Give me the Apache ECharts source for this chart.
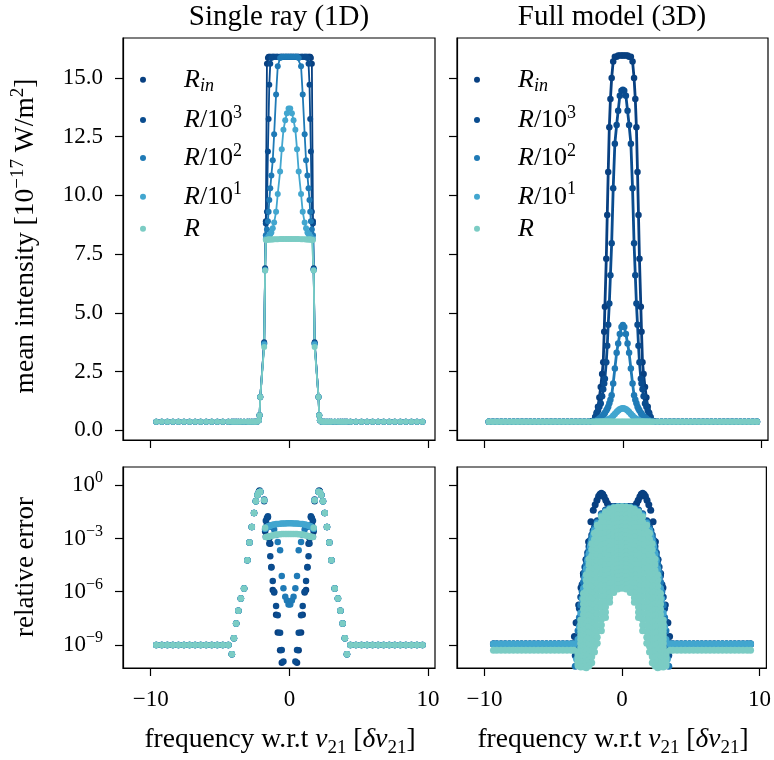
<!DOCTYPE html>
<html><head><meta charset="utf-8">
<script src="https://cdn.jsdelivr.net/npm/echarts@6.0.0/dist/echarts.min.js"></script>
<style>html,body{margin:0;padding:0;background:#fff}#c{width:774px;height:760px}</style>
</head><body><div id="c"></div>
<script>
// ---------------- DATA ----------------
const seriesNames = ['R_in','R/10^3','R/10^2','R/10^1','R'];
const xTicks = [-10, 0, 10];
const yTicksTop = [0, 2.5, 5, 7.5, 10, 12.5, 15];
const yTicksErr = [-9, -6, -3, 0];   // log10 of relative error

// 1D (single ray) frequency grid
const x1D = [-9.6,-9.2,-8.8,-8.4,-8.0,-7.6,-7.2,-6.8,-6.4,-6.0,-5.6,-5.2,-4.8,-4.4,-4.15,-4.0,-3.84,-3.68,-3.5,-3.27,-3.03,-2.88,-2.71,-2.55,-2.42,-2.3,-2.2,-2.15,-2.1,-1.82,-1.75,-1.7,-1.62,-1.55,-1.5,-1.45,-1.38,-1.3,-1.2,-1.1,-0.96,-0.84,-0.67,-0.55,-0.43,-0.3,-0.18,-0.06,
0.06,0.18,0.3,0.43,0.55,0.67,0.84,0.96,1.1,1.2,1.3,1.38,1.45,1.5,1.55,1.62,1.7,1.75,1.82,2.1,2.15,2.2,2.3,2.42,2.55,2.71,2.88,3.03,3.27,3.5,3.68,3.84,4.0,4.15,4.4,4.8,5.2,5.6,6.0,6.4,6.8,7.2,7.6,8.0,8.4,8.8,9.2,9.6];

// 1D mean intensity [1e-17 W/m2]
const int1D_Rin = [0.37,0.37,0.37,0.37,0.37,0.37,0.37,0.37,0.37,0.37,0.37,0.37,0.37,0.37,0.37,0.37,0.37,0.37,0.37,0.37,0.37,0.37,0.37,0.37,0.37,
0.38,0.43,0.64,1.42,3.75,6.9,8.9,15.6,15.85,
15.9,15.9,15.9,15.9,15.9,15.9,15.9,15.9,15.9,15.9,15.9,15.9,15.9,15.9,
15.9,15.9,15.9,15.9,15.9,15.9,15.9,15.9,15.9,15.9,15.9,15.9,15.9,15.9,
15.85,15.6,8.9,6.9,3.75,1.42,0.64,0.43,0.38,
0.37,0.37,0.37,0.37,0.37,0.37,0.37,0.37,0.37,0.37,0.37,0.37,0.37,0.37,0.37,0.37,0.37,0.37,0.37,0.37,0.37,0.37,0.37,0.37,0.37];
const int1D_R1e3 = [0.37,0.37,0.37,0.37,0.37,0.37,0.37,0.37,0.37,0.37,0.37,0.37,0.37,0.37,0.37,0.37,0.37,0.37,0.37,0.37,0.37,0.37,0.37,0.37,0.37,
0.38,0.43,0.64,1.42,3.7,6.85,8.81,9.31,11.87,13.25,14.71,15.6,15.85,
15.9,15.9,15.9,15.9,15.9,15.9,15.9,15.9,15.9,15.9,
15.9,15.9,15.9,15.9,15.9,15.9,15.9,15.9,15.9,15.9,
15.85,15.6,14.71,13.25,11.87,9.31,8.81,6.85,3.7,1.42,0.64,0.43,0.38,
0.37,0.37,0.37,0.37,0.37,0.37,0.37,0.37,0.37,0.37,0.37,0.37,0.37,0.37,0.37,0.37,0.37,0.37,0.37,0.37,0.37,0.37,0.37,0.37,0.37];
const int1D_R1e2 = [0.37,0.37,0.37,0.37,0.37,0.37,0.37,0.37,0.37,0.37,0.37,0.37,0.37,0.37,0.37,0.37,0.37,0.37,0.37,0.37,0.37,0.37,0.37,0.37,0.37,
0.38,0.43,0.64,1.42,3.7,6.85,8.3,8.55,8.9,9.3,9.8,10.3,10.85,11.5,12.6,14.3,15.5,15.85,
15.9,15.9,15.9,15.9,15.9,15.9,15.9,15.9,15.9,15.9,
15.85,15.5,14.3,12.6,11.5,10.85,10.3,9.8,9.3,8.9,8.55,8.3,6.85,3.7,1.42,0.64,0.43,0.38,
0.37,0.37,0.37,0.37,0.37,0.37,0.37,0.37,0.37,0.37,0.37,0.37,0.37,0.37,0.37,0.37,0.37,0.37,0.37,0.37,0.37,0.37,0.37,0.37,0.37];
const int1D_R1e1 = [0.37,0.37,0.37,0.37,0.37,0.37,0.37,0.37,0.37,0.37,0.37,0.37,0.37,0.37,0.37,0.37,0.37,0.37,0.37,0.37,0.37,0.37,0.37,0.37,0.37,
0.38,0.43,0.64,1.42,3.65,6.8,8.15,8.18,8.2,8.25,8.3,8.35,8.42,8.6,8.85,9.3,10.06,11.02,11.97,12.79,13.2,13.5,13.7,
13.7,13.5,13.2,12.79,11.97,11.02,10.06,9.3,8.85,8.6,8.42,8.35,8.3,8.25,8.2,8.18,8.15,6.8,3.65,1.42,0.64,0.43,0.38,
0.37,0.37,0.37,0.37,0.37,0.37,0.37,0.37,0.37,0.37,0.37,0.37,0.37,0.37,0.37,0.37,0.37,0.37,0.37,0.37,0.37,0.37,0.37,0.37,0.37];
const int1D_R = [0.37,0.37,0.37,0.37,0.37,0.37,0.37,0.37,0.37,0.37,0.37,0.37,0.37,0.37,0.37,0.37,0.37,0.37,0.37,0.37,0.37,0.37,0.37,0.37,0.37,
0.38,0.43,0.64,1.42,3.55,6.8,8.1,8.11,8.12,8.12,8.12,8.12,8.12,8.12,8.13,8.13,8.13,8.14,8.14,8.14,8.15,8.15,8.15,
8.15,8.15,8.15,8.14,8.14,8.14,8.13,8.13,8.13,8.12,8.12,8.12,8.12,8.12,8.12,8.11,8.1,6.8,3.55,1.42,0.64,0.43,0.38,
0.37,0.37,0.37,0.37,0.37,0.37,0.37,0.37,0.37,0.37,0.37,0.37,0.37,0.37,0.37,0.37,0.37,0.37,0.37,0.37,0.37,0.37,0.37,0.37,0.37];

// 1D relative error, log10 values
const err1D_Rin = [-9,-9,-9,-9,-9,-9,-9,-9,-9,-9,-9,-9,-9,-9,
-9.53,-8.63,-7.79,-7.07,-6.38,-5.82,-4.22,-3.23,-2.35,-1.56,-0.9,-0.55,-0.35,-0.3,-0.36,
-0.9,-2.6,-2.9,-2.2,-1.8,-2.3,-3.0,-3.3,-4.6,-5.9,-6.05,-7.3,-8.3,-9.3,-10.0,-11,-11,-11,-11,
-11,-11,-11,-11,-10.0,-9.3,-8.3,-7.3,-6.05,-5.9,-4.6,-3.3,-3.0,-2.3,-1.8,-2.2,-2.9,-2.6,-0.9,
-0.36,-0.3,-0.35,-0.55,-0.9,-1.56,-2.35,-3.23,-4.22,-5.82,-6.38,-7.07,-7.79,-8.63,-9.53,
-9,-9,-9,-9,-9,-9,-9,-9,-9,-9,-9,-9,-9,-9];
const err1D_R1e3 = [-9,-9,-9,-9,-9,-9,-9,-9,-9,-9,-9,-9,-9,-9,
-9.53,-8.63,-7.79,-7.07,-6.38,-5.82,-4.22,-3.23,-2.35,-1.56,-0.9,-0.55,-0.41,-0.33,-0.36,
-0.8,-2.5,-2.0,-1.85,-1.74,-2.9,-3.28,-4.0,-4.63,-5.4,-6.0,-6.8,-7.32,-8.31,-9.29,-9.94,-11,-11,-11,
-11,-11,-11,-9.94,-9.29,-8.31,-7.32,-6.8,-6.0,-5.4,-4.63,-4.0,-3.28,-2.9,-1.74,-1.85,-2.0,-2.5,-0.8,
-0.36,-0.33,-0.41,-0.55,-0.9,-1.56,-2.35,-3.23,-4.22,-5.82,-6.38,-7.07,-7.79,-8.63,-9.53,
-9,-9,-9,-9,-9,-9,-9,-9,-9,-9,-9,-9,-9,-9];
const err1D_R1e2 = [-9,-9,-9,-9,-9,-9,-9,-9,-9,-9,-9,-9,-9,-9,
-9.53,-8.63,-7.79,-7.07,-6.38,-5.82,-4.22,-3.23,-2.35,-1.56,-0.9,-0.55,-0.41,-0.38,-0.36,
-0.84,-2.45,-2.4,-2.38,-2.35,-2.33,-2.32,-2.3,-2.3,-2.35,-2.5,-2.8,-3.2,-3.66,-5.12,-5.81,-6.28,-6.5,-6.72,
-6.72,-6.5,-6.28,-5.81,-5.12,-3.66,-3.2,-2.8,-2.5,-2.35,-2.3,-2.3,-2.32,-2.33,-2.35,-2.38,-2.4,-2.45,-0.84,
-0.36,-0.38,-0.41,-0.55,-0.9,-1.56,-2.35,-3.23,-4.22,-5.82,-6.38,-7.07,-7.79,-8.63,-9.53,
-9,-9,-9,-9,-9,-9,-9,-9,-9,-9,-9,-9,-9,-9];
const err1D_R1e1 = [-9,-9,-9,-9,-9,-9,-9,-9,-9,-9,-9,-9,-9,-9,
-9.53,-8.63,-7.79,-7.07,-6.38,-5.82,-4.22,-3.23,-2.35,-1.56,-0.9,-0.55,-0.41,-0.38,-0.36,
-0.84,-2.45,-2.4,-2.36,-2.33,-2.31,-2.29,-2.27,-2.25,-2.23,-2.21,-2.19,-2.18,-2.17,-2.16,-2.15,-2.15,-2.14,-2.14,
-2.14,-2.14,-2.15,-2.15,-2.16,-2.17,-2.18,-2.19,-2.21,-2.23,-2.25,-2.27,-2.29,-2.31,-2.33,-2.36,-2.4,-2.45,-0.84,
-0.36,-0.38,-0.41,-0.55,-0.9,-1.56,-2.35,-3.23,-4.22,-5.82,-6.38,-7.07,-7.79,-8.63,-9.53,
-9,-9,-9,-9,-9,-9,-9,-9,-9,-9,-9,-9,-9,-9];
const err1D_R = [-9,-9,-9,-9,-9,-9,-9,-9,-9,-9,-9,-9,-9,-9,
-9.53,-8.63,-7.79,-7.07,-6.38,-5.82,-4.22,-3.23,-2.35,-1.56,-0.9,-0.55,-0.41,-0.38,-0.36,
-0.84,-2.4,-2.92,-2.92,-2.9,-2.9,-2.88,-2.87,-2.85,-2.83,-2.8,-2.78,-2.77,-2.76,-2.75,-2.75,-2.74,-2.74,-2.74,
-2.74,-2.74,-2.74,-2.75,-2.75,-2.76,-2.77,-2.78,-2.8,-2.83,-2.85,-2.87,-2.88,-2.9,-2.9,-2.92,-2.92,-2.4,-0.84,
-0.36,-0.38,-0.41,-0.55,-0.9,-1.56,-2.35,-3.23,-4.22,-5.82,-6.38,-7.07,-7.79,-8.63,-9.53,
-9,-9,-9,-9,-9,-9,-9,-9,-9,-9,-9,-9,-9,-9];

// 3D (full model) frequency grid for intensity
const x3D = [-9.7,-9.4,-9.1,-8.8,-8.5,-8.2,-7.9,-7.6,-7.3,-7.0,-6.7,-6.4,-6.1,-5.8,-5.5,-5.2,-4.9,-4.6,-4.3,-4.0,-3.7,-3.4,-3.1,-2.8,-2.5,-2.2,-2.0,-1.9,-1.8,-1.7,-1.6,-1.5,-1.42,-1.35,-1.3,-1.2,-1.13,-1.06,-0.98,-0.9,-0.81,-0.7,-0.58,-0.45,-0.34,-0.22,-0.1,
0,
0.1,0.22,0.34,0.45,0.58,0.7,0.81,0.9,0.98,1.06,1.13,1.2,1.3,1.35,1.42,1.5,1.6,1.7,1.8,1.9,2.0,2.2,2.5,2.8,3.1,3.4,3.7,4.0,4.3,4.6,4.9,5.2,5.5,5.8,6.1,6.4,6.7,7.0,7.3,7.6,7.9,8.2,8.5,8.8,9.1,9.4,9.7];

const int3D_Rin = [0.37,0.37,0.37,0.37,0.37,0.37,0.37,0.37,0.37,0.37,0.37,0.37,0.37,0.37,0.37,0.37,0.37,0.37,0.37,0.37,0.37,0.37,0.37,0.37,0.37,
0.4,0.57,0.75,1.0,1.4,1.85,2.4,2.9,4.2,5.26,7.3,9.17,11.0,12.9,14.1,15.0,15.7,15.9,15.9,15.95,15.95,15.95,
15.95,
15.95,15.95,15.95,15.9,15.9,15.7,15.0,14.1,12.9,11.0,9.17,7.3,5.26,4.2,2.9,2.4,1.85,1.4,1.0,0.75,0.57,0.4,
0.37,0.37,0.37,0.37,0.37,0.37,0.37,0.37,0.37,0.37,0.37,0.37,0.37,0.37,0.37,0.37,0.37,0.37,0.37,0.37,0.37,0.37,0.37,0.37,0.37];
const int3D_R1e3 = [0.37,0.37,0.37,0.37,0.37,0.37,0.37,0.37,0.37,0.37,0.37,0.37,0.37,0.37,0.37,0.37,0.37,0.37,0.37,0.37,0.37,0.37,0.37,0.37,0.37,
0.39,0.55,0.7,0.85,1.0,1.14,1.45,1.75,2.0,2.2,2.9,3.6,4.5,5.4,6.6,7.96,10.3,12.2,13.0,13.6,14.24,14.45,
14.5,
14.45,14.24,13.6,13.0,12.2,10.3,7.96,6.6,5.4,4.5,3.6,2.9,2.2,2.0,1.75,1.45,1.14,1.0,0.85,0.7,0.55,0.39,
0.37,0.37,0.37,0.37,0.37,0.37,0.37,0.37,0.37,0.37,0.37,0.37,0.37,0.37,0.37,0.37,0.37,0.37,0.37,0.37,0.37,0.37,0.37,0.37,0.37];
const int3D_R1e2 = [0.37,0.37,0.37,0.37,0.37,0.37,0.37,0.37,0.37,0.37,0.37,0.37,0.37,0.37,0.37,0.37,0.37,0.37,0.37,0.37,0.37,0.37,0.37,0.37,0.37,0.37,
0.4,0.42,0.45,0.5,0.55,0.6,0.64,0.7,0.75,0.85,0.92,1.0,1.15,1.3,1.49,2.0,2.63,3.3,3.7,4.1,4.4,
4.48,
4.4,4.1,3.7,3.3,2.63,2.0,1.49,1.3,1.15,1.0,0.92,0.85,0.75,0.7,0.64,0.6,0.55,0.5,0.45,0.42,0.4,
0.37,0.37,0.37,0.37,0.37,0.37,0.37,0.37,0.37,0.37,0.37,0.37,0.37,0.37,0.37,0.37,0.37,0.37,0.37,0.37,0.37,0.37,0.37,0.37,0.37,0.37];
const int3D_R1e1 = [0.37,0.37,0.37,0.37,0.37,0.37,0.37,0.37,0.37,0.37,0.37,0.37,0.37,0.37,0.37,0.37,0.37,0.37,0.37,0.37,0.37,0.37,0.37,0.37,0.37,0.37,
0.37,0.37,0.37,0.37,0.38,0.38,0.39,0.39,0.4,0.41,0.43,0.45,0.48,0.5,0.55,0.62,0.7,0.78,0.85,0.9,0.93,
0.94,
0.93,0.9,0.85,0.78,0.7,0.62,0.55,0.5,0.48,0.45,0.43,0.41,0.4,0.39,0.39,0.38,0.38,0.37,0.37,0.37,0.37,
0.37,0.37,0.37,0.37,0.37,0.37,0.37,0.37,0.37,0.37,0.37,0.37,0.37,0.37,0.37,0.37,0.37,0.37,0.37,0.37,0.37,0.37,0.37,0.37,0.37,0.37];
const int3D_R = [0.37,0.37,0.37,0.37,0.37,0.37,0.37,0.37,0.37,0.37,0.37,0.37,0.37,0.37,0.37,0.37,0.37,0.37,0.37,0.37,0.37,0.37,0.37,0.37,0.37,
0.37,0.37,0.37,0.37,0.37,0.37,0.37,0.37,0.37,0.37,0.37,0.37,0.37,0.37,0.37,0.37,0.37,0.37,0.37,0.37,0.37,0.37,
0.37,
0.37,0.37,0.37,0.37,0.37,0.37,0.37,0.37,0.37,0.37,0.37,0.37,0.37,0.37,0.37,0.37,0.37,0.37,0.37,0.37,0.37,0.37,
0.37,0.37,0.37,0.37,0.37,0.37,0.37,0.37,0.37,0.37,0.37,0.37,0.37,0.37,0.37,0.37,0.37,0.37,0.37,0.37,0.37,0.37,0.37,0.37,0.37];

// 3D relative error (log10): wings
const xWing3D = [-9.35,-9.1,-8.8,-8.5,-8.2,-7.9,-7.6,-7.3,-7.0,-6.7,-6.4,-6.1,-5.8,-5.5,-5.2,-4.9,-4.6,-4.3,-4.0,-3.7,-3.5,
3.5,3.7,4.0,4.3,4.6,4.9,5.2,5.5,5.8,6.1,6.4,6.7,7.0,7.3,7.6,7.9,8.2,8.5,8.8,9.1,9.35];
const errWing3D_upper = [-8.95,-8.95,-8.95,-8.95,-8.95,-8.95,-8.95,-8.95,-8.95,-8.95,-8.95,-8.95,-8.95,-8.95,-8.95,-8.95,-8.95,-8.95,-8.95,-8.95,-8.95,
-8.95,-8.95,-8.95,-8.95,-8.95,-8.95,-8.95,-8.95,-8.95,-8.95,-8.95,-8.95,-8.95,-8.95,-8.95,-8.95,-8.95,-8.95,-8.95,-8.95,-8.95];
const errWing3D_R = [-9.3,-9.3,-9.3,-9.3,-9.3,-9.3,-9.3,-9.3,-9.3,-9.3,-9.3,-9.3,-9.3,-9.3,-9.3,-9.3,-9.3,-9.3,-9.3,-9.3,-9.3,
-9.3,-9.3,-9.3,-9.3,-9.3,-9.3,-9.3,-9.3,-9.3,-9.3,-9.3,-9.3,-9.3,-9.3,-9.3,-9.3,-9.3,-9.3,-9.3,-9.3,-9.3];

// 3D error, R_in (outermost navy dots)
const xErr3D_Rin = [-3.46,-3.34,-3.15,-2.98,-2.81,-2.62,-2.43,-2.26,-2.09,-1.95,-1.82,-1.7,-1.6,-1.5,-1.4,-1.3,-1.18,-1.06,-0.8,-0.5,-0.2,
0.2,0.5,0.8,1.06,1.18,1.3,1.4,1.5,1.6,1.7,1.82,1.95,2.09,2.26,2.43,2.62,2.81,2.98,3.15,3.34,3.46];
const err3D_Rin = [-8.53,-7.75,-6.75,-5.78,-4.97,-4.18,-3.19,-2.06,-1.41,-1.1,-0.85,-0.62,-0.5,-0.45,-0.5,-0.65,-0.85,-1.03,-1.2,-1.2,-1.2,
-1.2,-1.2,-1.2,-1.03,-0.85,-0.65,-0.5,-0.45,-0.5,-0.62,-0.85,-1.1,-1.41,-2.06,-3.19,-4.18,-4.97,-5.78,-6.75,-7.75,-8.53];

// 3D error rims (R/10^3, R/10^2, R/10^1)
const xErr3D_rim = [-3.4,-3.3,-3.2,-3.1,-3.0,-2.9,-2.8,-2.7,-2.6,-2.5,-2.4,-2.3,-2.2,-2.1,-2.0,-1.8,-1.5,-1.2,-0.9,-0.6,-0.3,0,
0.3,0.6,0.9,1.2,1.5,1.8,2.0,2.1,2.2,2.3,2.4,2.5,2.6,2.7,2.8,2.9,3.0,3.1,3.2,3.3,3.4];
const err3D_R1e3 = [-9.6,-8.6,-7.7,-6.95,-6.3,-5.6,-5.1,-4.6,-4.2,-3.8,-3.45,-3.1,-2.8,-2.55,-2.35,-2.0,-1.6,-1.4,-1.28,-1.22,-1.2,-1.2,
-1.2,-1.22,-1.28,-1.4,-1.6,-2.0,-2.35,-2.55,-2.8,-3.1,-3.45,-3.8,-4.2,-4.6,-5.1,-5.6,-6.3,-6.95,-7.7,-8.6,-9.6];
const err3D_R1e2 = [-10.2,-9.2,-8.2,-7.45,-6.75,-6.0,-5.45,-4.9,-4.45,-4.0,-3.65,-3.28,-2.95,-2.68,-2.45,-2.08,-1.65,-1.44,-1.3,-1.23,-1.2,-1.2,
-1.2,-1.23,-1.3,-1.44,-1.65,-2.08,-2.45,-2.68,-2.95,-3.28,-3.65,-4.0,-4.45,-4.9,-5.45,-6.0,-6.75,-7.45,-8.2,-9.2,-10.2];
const err3D_R1e1 = [-10.8,-9.8,-8.7,-7.97,-7.2,-6.4,-5.8,-5.2,-4.7,-4.22,-3.85,-3.45,-3.1,-2.8,-2.55,-2.15,-1.7,-1.48,-1.33,-1.25,-1.21,-1.2,
-1.21,-1.25,-1.33,-1.48,-1.7,-2.15,-2.55,-2.8,-3.1,-3.45,-3.85,-4.22,-4.7,-5.2,-5.8,-6.4,-7.2,-7.97,-8.7,-9.8,-10.8];

// 3D error, R: dense cloud read as layered rows
const xErr3D_R = [-3.2,-3.0,-2.8,-2.6,-2.4,-2.2,-2.0,-1.8,-1.5,-1.2,-0.9,-0.6,-0.3,0,0.3,0.6,0.9,1.2,1.5,1.8,2.0,2.2,2.4,2.6,2.8,3.0,3.2];
const err3D_R_row00 = [-9.4,-7.6,-6.1,-5.05,-4.15,-3.3,-2.7,-2.25,-1.77,-1.52,-1.36,-1.27,-1.22,-1.21,-1.22,-1.27,-1.36,-1.52,-1.77,-2.25,-2.7,-3.3,-4.15,-5.05,-6.1,-7.6,-9.4];
const err3D_R_row05 = [-9.53,-7.82,-6.4,-5.36,-4.47,-3.64,-3.04,-2.59,-2.09,-1.82,-1.62,-1.51,-1.45,-1.44,-1.45,-1.51,-1.62,-1.82,-2.09,-2.59,-3.04,-3.64,-4.47,-5.36,-6.4,-7.82,-9.53];
const err3D_R_row10 = [-9.66,-8.04,-6.69,-5.67,-4.79,-3.97,-3.37,-2.92,-2.41,-2.11,-1.88,-1.75,-1.68,-1.67,-1.68,-1.75,-1.88,-2.11,-2.41,-2.92,-3.37,-3.97,-4.79,-5.67,-6.69,-8.04,-9.66];
const err3D_R_row15 = [-9.79,-8.26,-6.99,-5.98,-5.11,-4.31,-3.71,-3.25,-2.74,-2.41,-2.15,-1.99,-1.92,-1.9,-1.92,-1.99,-2.15,-2.41,-2.74,-3.25,-3.71,-4.31,-5.11,-5.98,-6.99,-8.26,-9.79];
const err3D_R_row20 = [-9.92,-8.48,-7.28,-6.28,-5.42,-4.64,-4.04,-3.58,-3.06,-2.71,-2.41,-2.23,-2.15,-2.13,-2.15,-2.23,-2.41,-2.71,-3.06,-3.58,-4.04,-4.64,-5.42,-6.28,-7.28,-8.48,-9.92];
const err3D_R_row25 = [-10.05,-8.7,-7.58,-6.59,-5.74,-4.98,-4.38,-3.92,-3.38,-3.01,-2.67,-2.48,-2.38,-2.36,-2.38,-2.48,-2.67,-3.01,-3.38,-3.92,-4.38,-4.98,-5.74,-6.59,-7.58,-8.7,-10.05];
const err3D_R_row30 = [-10.18,-8.92,-7.87,-6.9,-6.06,-5.31,-4.71,-4.25,-3.7,-3.3,-2.93,-2.72,-2.61,-2.59,-2.61,-2.72,-2.93,-3.3,-3.7,-4.25,-4.71,-5.31,-6.06,-6.9,-7.87,-8.92,-10.18];
const err3D_R_row35 = [-10.31,-9.14,-8.17,-7.21,-6.38,-5.65,-5.05,-4.58,-4.02,-3.6,-3.2,-2.95,-2.84,-2.82,-2.84,-2.95,-3.2,-3.6,-4.02,-4.58,-5.05,-5.65,-6.38,-7.21,-8.17,-9.14,-10.31];
const err3D_R_row40 = [-10.44,-9.36,-8.46,-7.51,-6.69,-5.98,-5.38,-4.91,-4.34,-3.89,-3.46,-3.18,-3.07,-3.05,-3.07,-3.18,-3.46,-3.89,-4.34,-4.91,-5.38,-5.98,-6.69,-7.51,-8.46,-9.36,-10.44];
const err3D_R_row45 = [-10.57,-9.58,-8.76,-7.82,-7.01,-6.32,-5.72,-5.25,-4.67,-4.19,-3.72,-3.42,-3.31,-3.28,-3.31,-3.42,-3.72,-4.19,-4.67,-5.25,-5.72,-6.32,-7.01,-7.82,-8.76,-9.58,-10.57];
const err3D_R_row50 = [-10.7,-9.8,-9.05,-8.13,-7.33,-6.65,-6.05,-5.58,-4.99,-4.49,-3.98,-3.66,-3.54,-3.51,-3.54,-3.66,-3.98,-4.49,-4.99,-5.58,-6.05,-6.65,-7.33,-8.13,-9.05,-9.8,-10.7];
const err3D_R_row55 = [-10.85,-10.02,-9.35,-8.44,-7.65,-6.99,-6.39,-5.91,-5.31,-4.79,-4.24,-3.9,-3.77,-3.74,-3.77,-3.9,-4.24,-4.79,-5.31,-5.91,-6.39,-6.99,-7.65,-8.44,-9.35,-10.02,-10.85];
const err3D_R_row60 = [-11,-10.24,-9.64,-8.74,-7.96,-7.32,-6.72,-6.24,-5.63,-5.08,-4.5,-4.14,-4.0,-3.96,-4.0,-4.14,-4.5,-5.08,-5.63,-6.24,-6.72,-7.32,-7.96,-8.74,-9.64,-10.24,-11];
const err3D_R_row65 = [-11,-10.46,-9.94,-9.05,-8.28,-7.66,-7.06,-6.58,-5.95,-5.38,-4.77,-4.38,-4.23,-4.19,-4.23,-4.38,-4.77,-5.38,-5.95,-6.58,-7.06,-7.66,-8.28,-9.05,-9.94,-10.46,-11];
const err3D_R_row70 = [-11,-10.68,-10.23,-9.36,-8.6,-7.99,-7.39,-6.91,-6.27,-5.67,-5.03,-4.62,-4.46,-4.42,-4.46,-4.62,-5.03,-5.67,-6.27,-6.91,-7.39,-7.99,-8.6,-9.36,-10.23,-10.68,-11];
const err3D_R_row75 = [-11,-10.84,-10.53,-9.67,-8.92,-8.33,-7.73,-7.24,-6.59,-5.97,-5.29,-4.86,-4.69,-4.65,-4.69,-4.86,-5.29,-5.97,-6.59,-7.24,-7.73,-8.33,-8.92,-9.67,-10.53,-10.84,-11];
const err3D_R_row80 = [-11,-11,-10.82,-9.97,-9.23,-8.66,-8.06,-7.57,-6.91,-6.26,-5.55,-5.09,-4.92,-4.88,-4.92,-5.09,-5.55,-6.26,-6.91,-7.57,-8.06,-8.66,-9.23,-9.97,-10.82,-11,-11];
const err3D_R_row85 = [-11,-11,-10.91,-10.28,-9.55,-9.0,-8.4,-7.91,-7.24,-6.56,-5.82,-5.33,-5.16,-5.11,-5.16,-5.33,-5.82,-6.56,-7.24,-7.91,-8.4,-9.0,-9.55,-10.28,-10.91,-11,-11];
const err3D_R_row90 = [-11,-11,-11,-10.59,-9.87,-9.33,-8.73,-8.24,-7.56,-6.86,-6.08,-5.57,-5.39,-5.34,-5.39,-5.57,-6.08,-6.86,-7.56,-8.24,-8.73,-9.33,-9.87,-10.59,-11,-11,-11];
const err3D_R_row95 = [-11,-11,-11,-10.8,-10.19,-9.67,-9.07,-8.57,-7.88,-7.16,-6.34,-5.81,-5.62,-5.57,-5.62,-5.81,-6.34,-7.16,-7.88,-8.57,-9.07,-9.67,-10.19,-10.8,-11,-11,-11];
const err3D_R_row100 = [-11,-11,-11,-11,-10.5,-10.0,-9.4,-8.9,-8.2,-7.45,-6.6,-6.05,-5.85,-5.8,-5.85,-6.05,-6.6,-7.45,-8.2,-8.9,-9.4,-10.0,-10.5,-11,-11,-11,-11];

// ---------------- BUILD ----------------
function pts(xs, ys, name) {
  if (xs.length !== ys.length) throw new Error('length mismatch ' + name + ' ' + xs.length + ' vs ' + ys.length);
  return xs.map((x, i) => [x, ys[i]]);
}
const FONT = "'Liberation Serif', serif";
const colors = ['#084081', '#0a4c8f', '#1f7ab6', '#42a6cf', '#7bccc4'];

const top1D = [int1D_Rin, int1D_R1e3, int1D_R1e2, int1D_R1e1, int1D_R];
const top3D = [int3D_Rin, int3D_R1e3, int3D_R1e2, int3D_R1e1, int3D_R];
const bot1D = [err1D_Rin, err1D_R1e3, err1D_R1e2, err1D_R1e1, err1D_R];
const rowsR = [err3D_R_row00, err3D_R_row05, err3D_R_row10, err3D_R_row15, err3D_R_row20, err3D_R_row25, err3D_R_row30,
  err3D_R_row35, err3D_R_row40, err3D_R_row45, err3D_R_row50, err3D_R_row55, err3D_R_row60, err3D_R_row65, err3D_R_row70,
  err3D_R_row75, err3D_R_row80, err3D_R_row85, err3D_R_row90, err3D_R_row95, err3D_R_row100];
const bot3D = [
  pts(xWing3D, errWing3D_upper, 'w0').concat(pts(xErr3D_Rin, err3D_Rin, 'in')),
  pts(xWing3D, errWing3D_upper, 'w1').concat(pts(xErr3D_rim, err3D_R1e3, 'r3')),
  pts(xWing3D, errWing3D_upper, 'w2').concat(pts(xErr3D_rim, err3D_R1e2, 'r2')),
  pts(xWing3D, errWing3D_upper, 'w3').concat(pts(xErr3D_rim, err3D_R1e1, 'r1')),
  pts(xWing3D, errWing3D_R, 'w4').concat(...rowsR.map((r, k) => pts(xErr3D_R, r, 'row' + k)))
];

const series = [];
seriesNames.forEach((n, i) => series.push({
  type: 'line', name: n, xAxisIndex: 0, yAxisIndex: 0, data: pts(x1D, top1D[i], 't1' + i),
  symbol: 'circle', symbolSize: 6, showAllSymbol: true, clip: true, silent: true,
  lineStyle: { width: 1.8, color: colors[i] }, itemStyle: { color: colors[i] }
}));
seriesNames.forEach((n, i) => series.push({
  type: 'line', name: n, xAxisIndex: 1, yAxisIndex: 1, data: pts(x3D, top3D[i], 't3' + i),
  symbol: 'circle', symbolSize: 6.5, showAllSymbol: true, clip: true, silent: true,
  lineStyle: { width: 2.8, color: colors[i] }, itemStyle: { color: colors[i] }
}));
seriesNames.forEach((n, i) => series.push({
  type: 'scatter', name: n, xAxisIndex: 2, yAxisIndex: 2, data: pts(x1D, bot1D[i], 'b1' + i),
  symbol: 'circle', symbolSize: 6.5, clip: true, silent: true, itemStyle: { color: colors[i], opacity: 1 }
}));
seriesNames.forEach((n, i) => series.push({
  type: 'scatter', name: n, xAxisIndex: 3, yAxisIndex: 3, data: bot3D[i],
  symbol: 'circle', symbolSize: 7, clip: true, silent: true, itemStyle: { color: colors[i], opacity: 1 }
}));

const grids = [
  { left: 123, top: 38, width: 312, height: 402 },
  { left: 457, top: 38, width: 311, height: 402 },
  { left: 123, top: 467, width: 312, height: 201 },
  { left: 457, top: 467, width: 311, height: 201 }
].map(g => Object.assign(g, { show: true, borderColor: '#000', borderWidth: 1.2, backgroundColor: 'transparent' }));

const minus = s => String(s).replace('-', '\u2212');
const xAxes = [0, 1, 2, 3].map(i => ({
  type: 'value', gridIndex: i, min: -12, max: 10.5,
  axisLine: { show: true, onZero: false, lineStyle: { color: '#000', width: 1.2 } },
  axisTick: { show: true, inside: false, length: 8, customValues: xTicks, lineStyle: { color: '#000', width: 1.2 } },
  axisLabel: { show: i >= 2, customValues: xTicks, margin: 20, color: '#000', fontFamily: FONT, fontSize: 23, formatter: v => minus(v) },
  splitLine: { show: false }
}));
const supRich = {
  b: { fontFamily: FONT, fontSize: 23, lineHeight: 30, color: '#000' },
  s: { fontFamily: FONT, fontSize: 16, lineHeight: 17, verticalAlign: 'top', color: '#000' }
};
const yAxes = [0, 1, 2, 3].map(i => {
  const isTop = i < 2;
  return {
    type: 'value', gridIndex: i,
    min: isTop ? -0.41 : -10.3, max: isTop ? 16.7 : 1.03,
    axisLine: { show: true, onZero: false, lineStyle: { color: '#000', width: 1.2 } },
    axisTick: { show: true, inside: false, length: 8, customValues: isTop ? yTicksTop : yTicksErr, lineStyle: { color: '#000', width: 1.2 } },
    axisLabel: {
      show: i === 0 || i === 2, customValues: isTop ? yTicksTop : yTicksErr, margin: 20, color: '#000',
      fontFamily: FONT, fontSize: 23,
      formatter: isTop ? (v => v.toFixed(1)) : (v => '{b|10}{s|' + minus(v) + '}'),
      rich: isTop ? undefined : supRich
    },
    splitLine: { show: false }
  };
});

const legendText = {
  'R_in': '{i|R}{sub|in}', 'R/10^3': '{i|R}{t|/10}{sup|3}', 'R/10^2': '{i|R}{t|/10}{sup|2}',
  'R/10^1': '{i|R}{t|/10}{sup|1}', 'R': '{i|R}'
};
const legRich = {
  i: { fontFamily: FONT, fontStyle: 'italic', fontSize: 26, lineHeight: 32, color: '#000' },
  t: { fontFamily: FONT, fontSize: 26, lineHeight: 32, color: '#000' },
  sup: { fontFamily: FONT, fontSize: 18, lineHeight: 18, verticalAlign: 'top', color: '#000' },
  sub: { fontFamily: FONT, fontStyle: 'italic', fontSize: 18, lineHeight: 24, verticalAlign: 'bottom', color: '#000' }
};
const legendRows = [82.7, 120, 158, 196.7, 231.7];
const legends = [];
[140, 474].forEach(lx => seriesNames.forEach((n, j) => legends.push({
  show: true, data: [{ name: n, icon: 'circle' }], left: lx, top: legendRows[j] - 16,
  itemWidth: 6, itemHeight: 6, padding: 0, itemGap: 0, selectedMode: false,
  formatter: () => legendText[n], textStyle: { padding: [0, 0, 0, 33], rich: legRich }
})));

const zr = (size) => ({
  t: { font: size + 'px ' + FONT, fill: '#000', lineHeight: size + 8 },
  i: { font: 'italic ' + size + 'px ' + FONT, fill: '#000', lineHeight: size + 8 },
  sub: { font: Math.round(size * 0.7) + 'px ' + FONT, fill: '#000', lineHeight: Math.round(size * 0.95), verticalAlign: 'bottom' },
  sup: { font: Math.round(size * 0.7) + 'px ' + FONT, fill: '#000', lineHeight: Math.round(size * 0.72), verticalAlign: 'top' }
});
const gtext = (x, y, text, size, rot) => ({
  type: 'text', x: x, y: y, rotation: rot || 0, silent: true,
  style: { text: text, rich: zr(size), font: size + 'px ' + FONT, fill: '#000', align: 'center', verticalAlign: 'middle' }
});
const graphic = [
  gtext(279, 17, '{t|Single ray (1D)}', 29),
  gtext(612, 17, '{t|Full model (3D)}', 29),
  gtext(280, 740, '{t|frequency w.r.t }{i|\u03bd}{sub|21}{t| [}{i|\u03b4\u03bd}{sub|21}{t|]}', 27.5),
  gtext(613, 740, '{t|frequency w.r.t }{i|\u03bd}{sub|21}{t| [}{i|\u03b4\u03bd}{sub|21}{t|]}', 27.5),
  gtext(26, 236, '{t|mean intensity [10}{sup|\u221217}{t| W/m}{sup|2}{t|]}', 27.5, Math.PI / 2),
  gtext(26, 567, '{t|relative error}', 27, Math.PI / 2)
];

const chart = echarts.init(document.getElementById('c'), null, { renderer: 'canvas' });
chart.setOption({
  animation: false, backgroundColor: '#fff',
  grid: grids, xAxis: xAxes, yAxis: yAxes, legend: legends, graphic: graphic, series: series,
  tooltip: { show: false }
});
</script></body></html>
